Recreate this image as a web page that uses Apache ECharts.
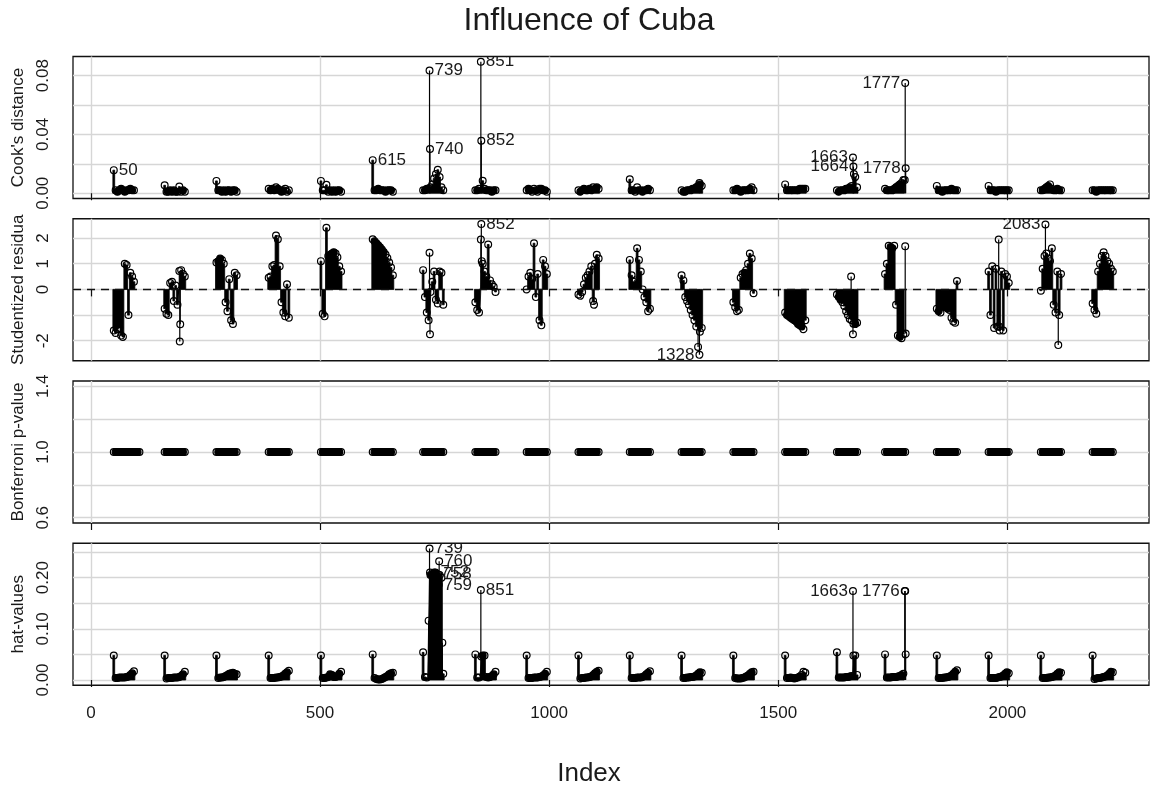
<!DOCTYPE html>
<html><head><meta charset="utf-8">
<script src="https://cdn.jsdelivr.net/npm/echarts@6/dist/echarts.min.js"></script>
<style>html,body{margin:0;padding:0;background:#fff}#chart{width:1152px;height:794px}</style>
</head><body><div id="chart"></div>
<script>
// ---------------- DATA ----------------
const clusterStarts = [50,161,274,388,502,615,725,839,951,1064,1176,1289,1402,1515,1628,1733,1846,1959,2073,2186];
const offsets = [0,4,8,12,16,20,24,28,32,36,40,44];
const xTicks = [0,500,1000,1500,2000];

const cookValues = [
 [0.0157,0.002,0.001,0.002,0.003,0.002,0.001,0.002,0.002,0.003,0.002,0.002],
 [0.0054,0.001,0.001,0.002,0.001,0.002,0.001,0.001,0.0045,0.001,0.002,0.001],
 [0.0084,0.002,0.002,0.001,0.002,0.001,0.002,0.002,0.001,0.002,0.002,0.001],
 [0.003,0.002,0.003,0.002,0.004,0.003,0.002,0.001,0.002,0.003,0.001,0.002],
 [0.0084,0.002,0.002,0.0057,0.001,0.002,0.001,0.002,0.001,0.002,0.002,0.001],
 [0.0225,0.002,0.002,0.003,0.002,0.002,0.002,0.001,0.002,0.002,0.002,0.001],
 [0.002,0.002,0.003,0.003,0.004,0.006,0.010,0.013,0.016,0.011,0.004,0.002],
 [0.002,0.002,0.003,0.003,0.0085,0.003,0.002,0.002,0.002,0.001,0.002,0.002],
 [0.002,0.003,0.002,0.001,0.003,0.002,0.001,0.003,0.003,0.002,0.002,0.001],
 [0.002,0.001,0.002,0.003,0.002,0.002,0.003,0.002,0.004,0.003,0.004,0.003],
 [0.0095,0.002,0.002,0.001,0.004,0.002,0.002,0.001,0.002,0.002,0.003,0.002],
 [0.002,0.001,0.001,0.002,0.002,0.002,0.003,0.003,0.004,0.005,0.006,0.005],
 [0.002,0.002,0.003,0.002,0.001,0.002,0.002,0.002,0.002,0.003,0.004,0.002],
 [0.006,0.002,0.002,0.002,0.002,0.002,0.002,0.002,0.003,0.003,0.003,0.003],
 [0.002,0.001,0.002,0.002,0.002,0.003,0.003,0.004,0.005,0.008,0.011,0.004],
 [0.003,0.002,0.002,0.002,0.002,0.003,0.004,0.005,0.006,0.007,0.009,0.007],
 [0.005,0.002,0.002,0.001,0.002,0.002,0.002,0.002,0.003,0.002,0.002,0.002],
 [0.005,0.002,0.002,0.002,0.001,0.002,0.002,0.002,0.002,0.002,0.002,0.002],
 [0.002,0.002,0.003,0.004,0.005,0.006,0.003,0.002,0.002,0.003,0.002,0.002],
 [0.002,0.002,0.001,0.002,0.002,0.002,0.002,0.002,0.002,0.002,0.002,0.002]
];
const cookExtras = [[739,0.0834],[740,0.030],[851,0.0894],[852,0.0357],[1328,0.007],[1663,0.0243],[1664,0.0182],[1665,0.013],[1776,0.009],[1777,0.075],[1778,0.017]];
const cookLabels = [[50,'50'],[615,'615'],[739,'739'],[740,'740'],[851,'851'],[852,'852'],[1663,'1663'],[1664,'1664'],[1777,'1777'],[1778,'1778']];

const residValues = [
 [-1.6,-1.7,-1.55,-1.5,-1.8,-1.85,1.0,0.95,-1.0,0.65,0.5,0.3],
 [-0.75,-0.95,-1.0,0.25,0.3,-0.45,0.15,-0.6,-0.5,0.75,0.6,0.5],
 [1.05,1.1,1.2,1.15,1.0,-0.5,-0.85,0.4,-1.2,-1.35,0.65,0.55],
 [0.45,0.5,0.9,0.95,2.1,1.95,0.9,-0.5,-0.9,-1.05,0.2,-1.1],
 [1.1,-0.95,-1.05,2.4,1.3,1.35,1.4,1.45,1.4,1.25,0.9,0.7],
 [1.95,1.88,1.8,1.72,1.64,1.55,1.46,1.36,1.22,1.05,0.85,0.55],
 [0.75,-0.3,-0.9,-1.2,-1.5,0.3,0.7,-0.4,-0.55,0.7,0.65,-0.6],
 [-0.5,-0.8,-0.9,1.0,1.0,0.7,0.5,1.75,0.35,0.2,0.1,-0.1],
 [0.0,0.5,0.65,0.4,1.8,-0.3,0.6,-1.2,-1.4,1.15,0.9,0.6],
 [-0.2,-0.25,-0.1,0.2,0.45,0.55,0.7,0.9,-0.45,1.0,1.35,1.2],
 [1.15,0.55,0.3,0.35,1.6,1.15,0.7,0.0,-0.3,-0.5,-0.85,-0.75],
 [0.55,0.35,-0.3,-0.45,-0.6,-0.8,-1.0,-1.2,-1.45,-1.6,-1.65,-1.5],
 [-0.5,-0.7,-0.85,-0.8,0.45,0.6,0.65,0.75,1.0,1.4,1.2,-0.15],
 [-0.9,-1.0,-1.05,-1.1,-1.15,-1.2,-1.25,-1.35,-1.4,-1.45,-1.55,-1.2],
 [-0.2,-0.3,-0.4,-0.5,-0.65,-0.85,-1.0,-1.15,-1.2,-1.3,-1.35,-1.3],
 [0.6,1.0,1.7,1.65,1.6,1.7,-0.6,-1.8,-1.85,-1.9,-1.75,1.6],
 [-0.75,-0.85,-0.9,-0.7,-0.65,-0.7,-0.75,-0.8,-1.1,-1.25,-1.3,0.33],
 [0.7,-1.0,0.9,-1.5,0.8,-1.45,-1.6,0.7,-1.6,0.6,0.5,0.25],
 [-0.05,0.8,1.3,1.4,1.2,1.1,1.6,-0.6,-0.9,0.7,-1.0,0.6],
 [-0.55,-0.8,-0.95,0.7,1.0,1.3,1.45,1.3,1.1,1.0,0.8,0.7]
];
const residExtras = [[193,0.72],[194,-2.03],[195,-1.36],[739,1.43],[740,-1.75],[741,-0.1],[851,1.94],[852,2.55],[853,1.1],[1098,-0.6],[1325,-2.24],[1328,-2.55],[1659,0.5],[1663,-1.75],[1664,-1.34],[1777,1.68],[1778,-1.72],[1981,1.94],[1982,-1.45],[2083,2.53],[2111,-2.17]];
const residLabels = [[852,'852'],[1328,'1328'],[2083,'2083']];

const bonfValues = [
 [1,1,1,1,1,1,1,1,1,1,1,1],[1,1,1,1,1,1,1,1,1,1,1,1],[1,1,1,1,1,1,1,1,1,1,1,1],[1,1,1,1,1,1,1,1,1,1,1,1],
 [1,1,1,1,1,1,1,1,1,1,1,1],[1,1,1,1,1,1,1,1,1,1,1,1],[1,1,1,1,1,1,1,1,1,1,1,1],[1,1,1,1,1,1,1,1,1,1,1,1],
 [1,1,1,1,1,1,1,1,1,1,1,1],[1,1,1,1,1,1,1,1,1,1,1,1],[1,1,1,1,1,1,1,1,1,1,1,1],[1,1,1,1,1,1,1,1,1,1,1,1],
 [1,1,1,1,1,1,1,1,1,1,1,1],[1,1,1,1,1,1,1,1,1,1,1,1],[1,1,1,1,1,1,1,1,1,1,1,1],[1,1,1,1,1,1,1,1,1,1,1,1],
 [1,1,1,1,1,1,1,1,1,1,1,1],[1,1,1,1,1,1,1,1,1,1,1,1],[1,1,1,1,1,1,1,1,1,1,1,1],[1,1,1,1,1,1,1,1,1,1,1,1]
];
const bonfExtras = [[98,1],[102,1],[106,1]];

const hatValues = [
 [0.048,0.004,0.004,0.005,0.005,0.005,0.005,0.006,0.007,0.010,0.013,0.017],
 [0.048,0.003,0.004,0.004,0.004,0.005,0.005,0.005,0.006,0.008,0.011,0.016],
 [0.048,0.004,0.005,0.005,0.006,0.008,0.010,0.012,0.013,0.014,0.012,0.011],
 [0.048,0.004,0.004,0.004,0.005,0.005,0.006,0.007,0.009,0.012,0.015,0.018],
 [0.048,0.004,0.004,0.005,0.006,0.011,0.010,0.006,0.006,0.008,0.012,0.016],
 [0.050,0.004,0.002,0.001,0.001,0.002,0.004,0.006,0.008,0.011,0.013,0.014],
 [0.054,0.006,0.005,0.006,0.205,0.207,0.210,0.205,0.203,0.205,0.200,0.012],
 [0.050,0.005,0.005,0.005,0.048,0.048,0.006,0.005,0.006,0.008,0.011,0.016],
 [0.048,0.004,0.004,0.004,0.005,0.005,0.005,0.006,0.007,0.009,0.012,0.016],
 [0.048,0.003,0.004,0.004,0.005,0.005,0.006,0.007,0.010,0.013,0.016,0.018],
 [0.048,0.004,0.004,0.004,0.005,0.005,0.005,0.006,0.008,0.011,0.014,0.017],
 [0.048,0.004,0.004,0.005,0.005,0.006,0.006,0.007,0.009,0.012,0.015,0.014],
 [0.048,0.004,0.003,0.003,0.003,0.004,0.005,0.007,0.009,0.012,0.015,0.016],
 [0.048,0.004,0.004,0.005,0.004,0.003,0.004,0.005,0.007,0.010,0.016,0.014],
 [0.054,0.005,0.005,0.005,0.005,0.006,0.006,0.007,0.008,0.048,0.048,0.010],
 [0.050,0.005,0.005,0.005,0.006,0.006,0.006,0.007,0.008,0.010,0.012,0.012],
 [0.048,0.004,0.004,0.004,0.005,0.005,0.006,0.007,0.009,0.012,0.016,0.019],
 [0.048,0.004,0.004,0.004,0.004,0.005,0.006,0.007,0.009,0.012,0.015,0.013],
 [0.048,0.004,0.004,0.004,0.005,0.005,0.006,0.007,0.009,0.012,0.015,0.014],
 [0.048,0.002,0.003,0.004,0.004,0.005,0.006,0.007,0.009,0.012,0.016,0.015]
];
const hatExtras = [[737,0.116],[739,0.257],[740,0.21],[752,0.21],[758,0.206],[759,0.186],[760,0.232],[767,0.073],[851,0.176],[852,0.046],[1663,0.174],[1664,0.048],[1776,0.174],[1777,0.174],[1778,0.05]];
const hatLabels = [[739,'739'],[760,'760'],[752,'752'],[758,'758'],[759,'759'],[851,'851'],[1663,'1663'],[1776,'1776']];

// ---------------- LAYOUT / STYLE ----------------
const FONT = '"Liberation Sans", Arial, Helvetica, sans-serif';
const TXT = '#1a1a1a';
const labelSplit = 1140;
const X_MIN = -39, X_MAX = 2309, GRID_LEFT = 73, GRID_RIGHT = 3, GRID_H = 142;
const HALF = (offsets[1]-offsets[0])/2;
const gridTops = [56.5, 218.75, 381, 543.25];
const panels = [
  {name:"Cook's distance", values:cookValues, extras:cookExtras, labels:cookLabels, min:-0.003576, max:0.09298,
   grid:[0,0.02,0.04,0.06,0.08], ticks:[0,0.04,0.08], fmt:v=>Number(v).toFixed(2), stems:true},
  {name:"Studentized residua", values:residValues, extras:residExtras, labels:residLabels, min:-2.78, max:2.753,
   grid:[-2,-1,0,1,2], ticks:[-2,0,1,2], fmt:v=>String(v), stems:true, zero:true},
  {name:"Bonferroni p-value", values:bonfValues, extras:bonfExtras, labels:[], min:0.568, max:1.432,
   grid:[0.6,0.8,1.0,1.2,1.4], ticks:[0.6,1.0,1.4], fmt:v=>Number(v).toFixed(1), stems:false},
  {name:"hat-values", values:hatValues, extras:hatExtras, labels:hatLabels, min:-0.01028, max:0.2673,
   grid:[0,0.05,0.10,0.15,0.20,0.25], ticks:[0,0.10,0.20], fmt:v=>Number(v).toFixed(2), stems:true}
];

function buildPoints(values, extras){
  const m = new Map();
  clusterStarts.forEach((s,k)=>offsets.forEach((o,j)=>m.set(s+o,{x:s+o,y:values[k][j],run:true,k:k})));
  extras.forEach(([i,v])=>m.set(i,{x:i,y:v,run:false}));
  return Array.from(m.values()).sort((a,b)=>a.x-b.x);
}
function denseFlags(pts, p){
  const sx = (1152-GRID_LEFT-GRID_RIGHT)/(X_MAX-X_MIN), sy = GRID_H/(p.max-p.min);
  const near = (a,b)=> Math.hypot((a.x-b.x)*sx,(a.y-b.y)*sy) < 3.2;
  return pts.map((d,i)=>{
    const prev = pts[i-1], next = pts[i+1];
    return (prev && near(d,prev) && next && near(d,next)) ? 1 : 0;
  });
}

const grids=[], xAxes=[], yAxes=[], series=[];
panels.forEach((p,gi)=>{
  grids.push({left:GRID_LEFT, right:GRID_RIGHT, top:gridTops[gi], height:GRID_H, show:true, borderColor:'#111', borderWidth:1.3, backgroundColor:'transparent'});
  xAxes.push({type:'value', gridIndex:gi, min:X_MIN, max:X_MAX,
    axisLine:{show:false},
    axisTick:{show:true, customValues:xTicks, length:7, inside:false, lineStyle:{color:'#111', width:1.2}},
    axisLabel:{show:gi===3, customValues:xTicks, fontSize:17, fontFamily:FONT, color:TXT, margin:20, formatter:v=>String(v)},
    splitLine:{show:true, lineStyle:{color:'#d6d6d6', width:1.4}}});
  yAxes.push({type:'value', gridIndex:gi, min:p.min, max:p.max,
    name:p.name, nameLocation:'middle', nameGap:38, nameTextStyle:{fontSize:17, fontFamily:FONT, color:TXT},
    axisLine:{show:false},
    axisTick:{show:false, customValues:p.grid},
    axisLabel:{show:true, customValues:p.ticks, rotate:90, fontSize:17, fontFamily:FONT, color:TXT, margin:21, formatter:p.fmt},
    splitLine:{show:true, lineStyle:{color:'#d6d6d6', width:1.4}}});
  const pts = buildPoints(p.values, p.extras);
  const dense = denseFlags(pts, p);
  if (p.stems){
    // type="h" stems of each cluster's regularly spaced points, drawn as one stepped filled area per cluster
    const runs = clusterStarts.map((s,k)=>pts.filter(d=>d.run && d.k===k));
    series.push({type:'custom', xAxisIndex:gi, yAxisIndex:gi, clip:true, silent:true, z:2, animation:false,
      data:clusterStarts.map(s=>[s,0]),
      renderItem:function(params, api){
        const r = runs[params.dataIndex];
        if (!r.length) return null;
        const poly = [api.coord([r[0].x-HALF,0])];
        r.forEach(d=>{ poly.push(api.coord([d.x-HALF,d.y])); poly.push(api.coord([d.x+HALF,d.y])); });
        poly.push(api.coord([r[r.length-1].x+HALF,0]));
        return {type:'polygon', shape:{points:poly}, style:{fill:'#000', stroke:'#000', lineWidth:0.8}};
      },
      markLine: p.zero ? {silent:true, symbol:['none','none'], label:{show:false}, animation:false,
        lineStyle:{color:'#111', type:[8,6], width:1.3}, data:[{yAxis:0}]} : undefined
    });
    // stems of the individually read points: thin lines
    series.push({type:'custom', xAxisIndex:gi, yAxisIndex:gi, clip:true, silent:true, z:2, animation:false,
      data:pts.filter(d=>!d.run).map(d=>[d.x,d.y]),
      renderItem:function(params, api){
        const x=api.value(0), y=api.value(1);
        const a=api.coord([x,0]), b=api.coord([x,y]);
        return {type:'line', shape:{x1:a[0],y1:a[1],x2:b[0],y2:b[1]}, style:{stroke:'#000', lineWidth:1.2}};
      }});
  }
  const dn = pts.map((d,i)=>[d.x,d.y,dense[i]]);
  series.push({type:'custom', xAxisIndex:gi, yAxisIndex:gi, clip:true, silent:true, z:3, animation:false,
    data:dn.map(d=>[d[0],d[1]]),
    renderItem:function(params, api){
      const c=api.coord([api.value(0),api.value(1)]);
      const filled = dn[params.dataIndex][2] > 0;
      return {type:'circle', shape:{cx:c[0], cy:c[1], r:3.4},
        style:{fill: filled ? '#000' : 'none', stroke:'#000', lineWidth:1.2}};
    }});
  if (p.labels.length){
    const lm = new Map(pts.map(d=>[d.x,d.y]));
    const labs = p.labels;
    series.push({type:'custom', xAxisIndex:gi, yAxisIndex:gi, clip:true, silent:true, z:4, animation:false,
      data:labs.map(l=>[l[0], lm.get(l[0])]),
      renderItem:function(params, api){
        const x=api.value(0), y=api.value(1);
        const c=api.coord([x,y]);
        const right = x < labelSplit;
        return {type:'text', x:c[0]+(right?5:-5), y:c[1],
          style:{text:labs[params.dataIndex][1], align:right?'left':'right', verticalAlign:'middle',
                 fontSize:17, fontFamily:FONT, fill:TXT}};
      }});
  }
});

const chart = echarts.init(document.getElementById('chart'), null, {renderer:'canvas'});
chart.setOption({
  animation:false,
  backgroundColor:'#fff',
  textStyle:{fontFamily:FONT},
  grid:grids, xAxis:xAxes, yAxis:yAxes, series:series,
  graphic:[
    {type:'text', x:589, y:21, style:{text:'Influence of Cuba', fontSize:32, fontFamily:FONT, fill:TXT, align:'center', verticalAlign:'middle'}},
    {type:'text', x:589, y:774, style:{text:'Index', fontSize:26, fontFamily:FONT, fill:TXT, align:'center', verticalAlign:'middle'}}
  ]
});
</script></body></html>
